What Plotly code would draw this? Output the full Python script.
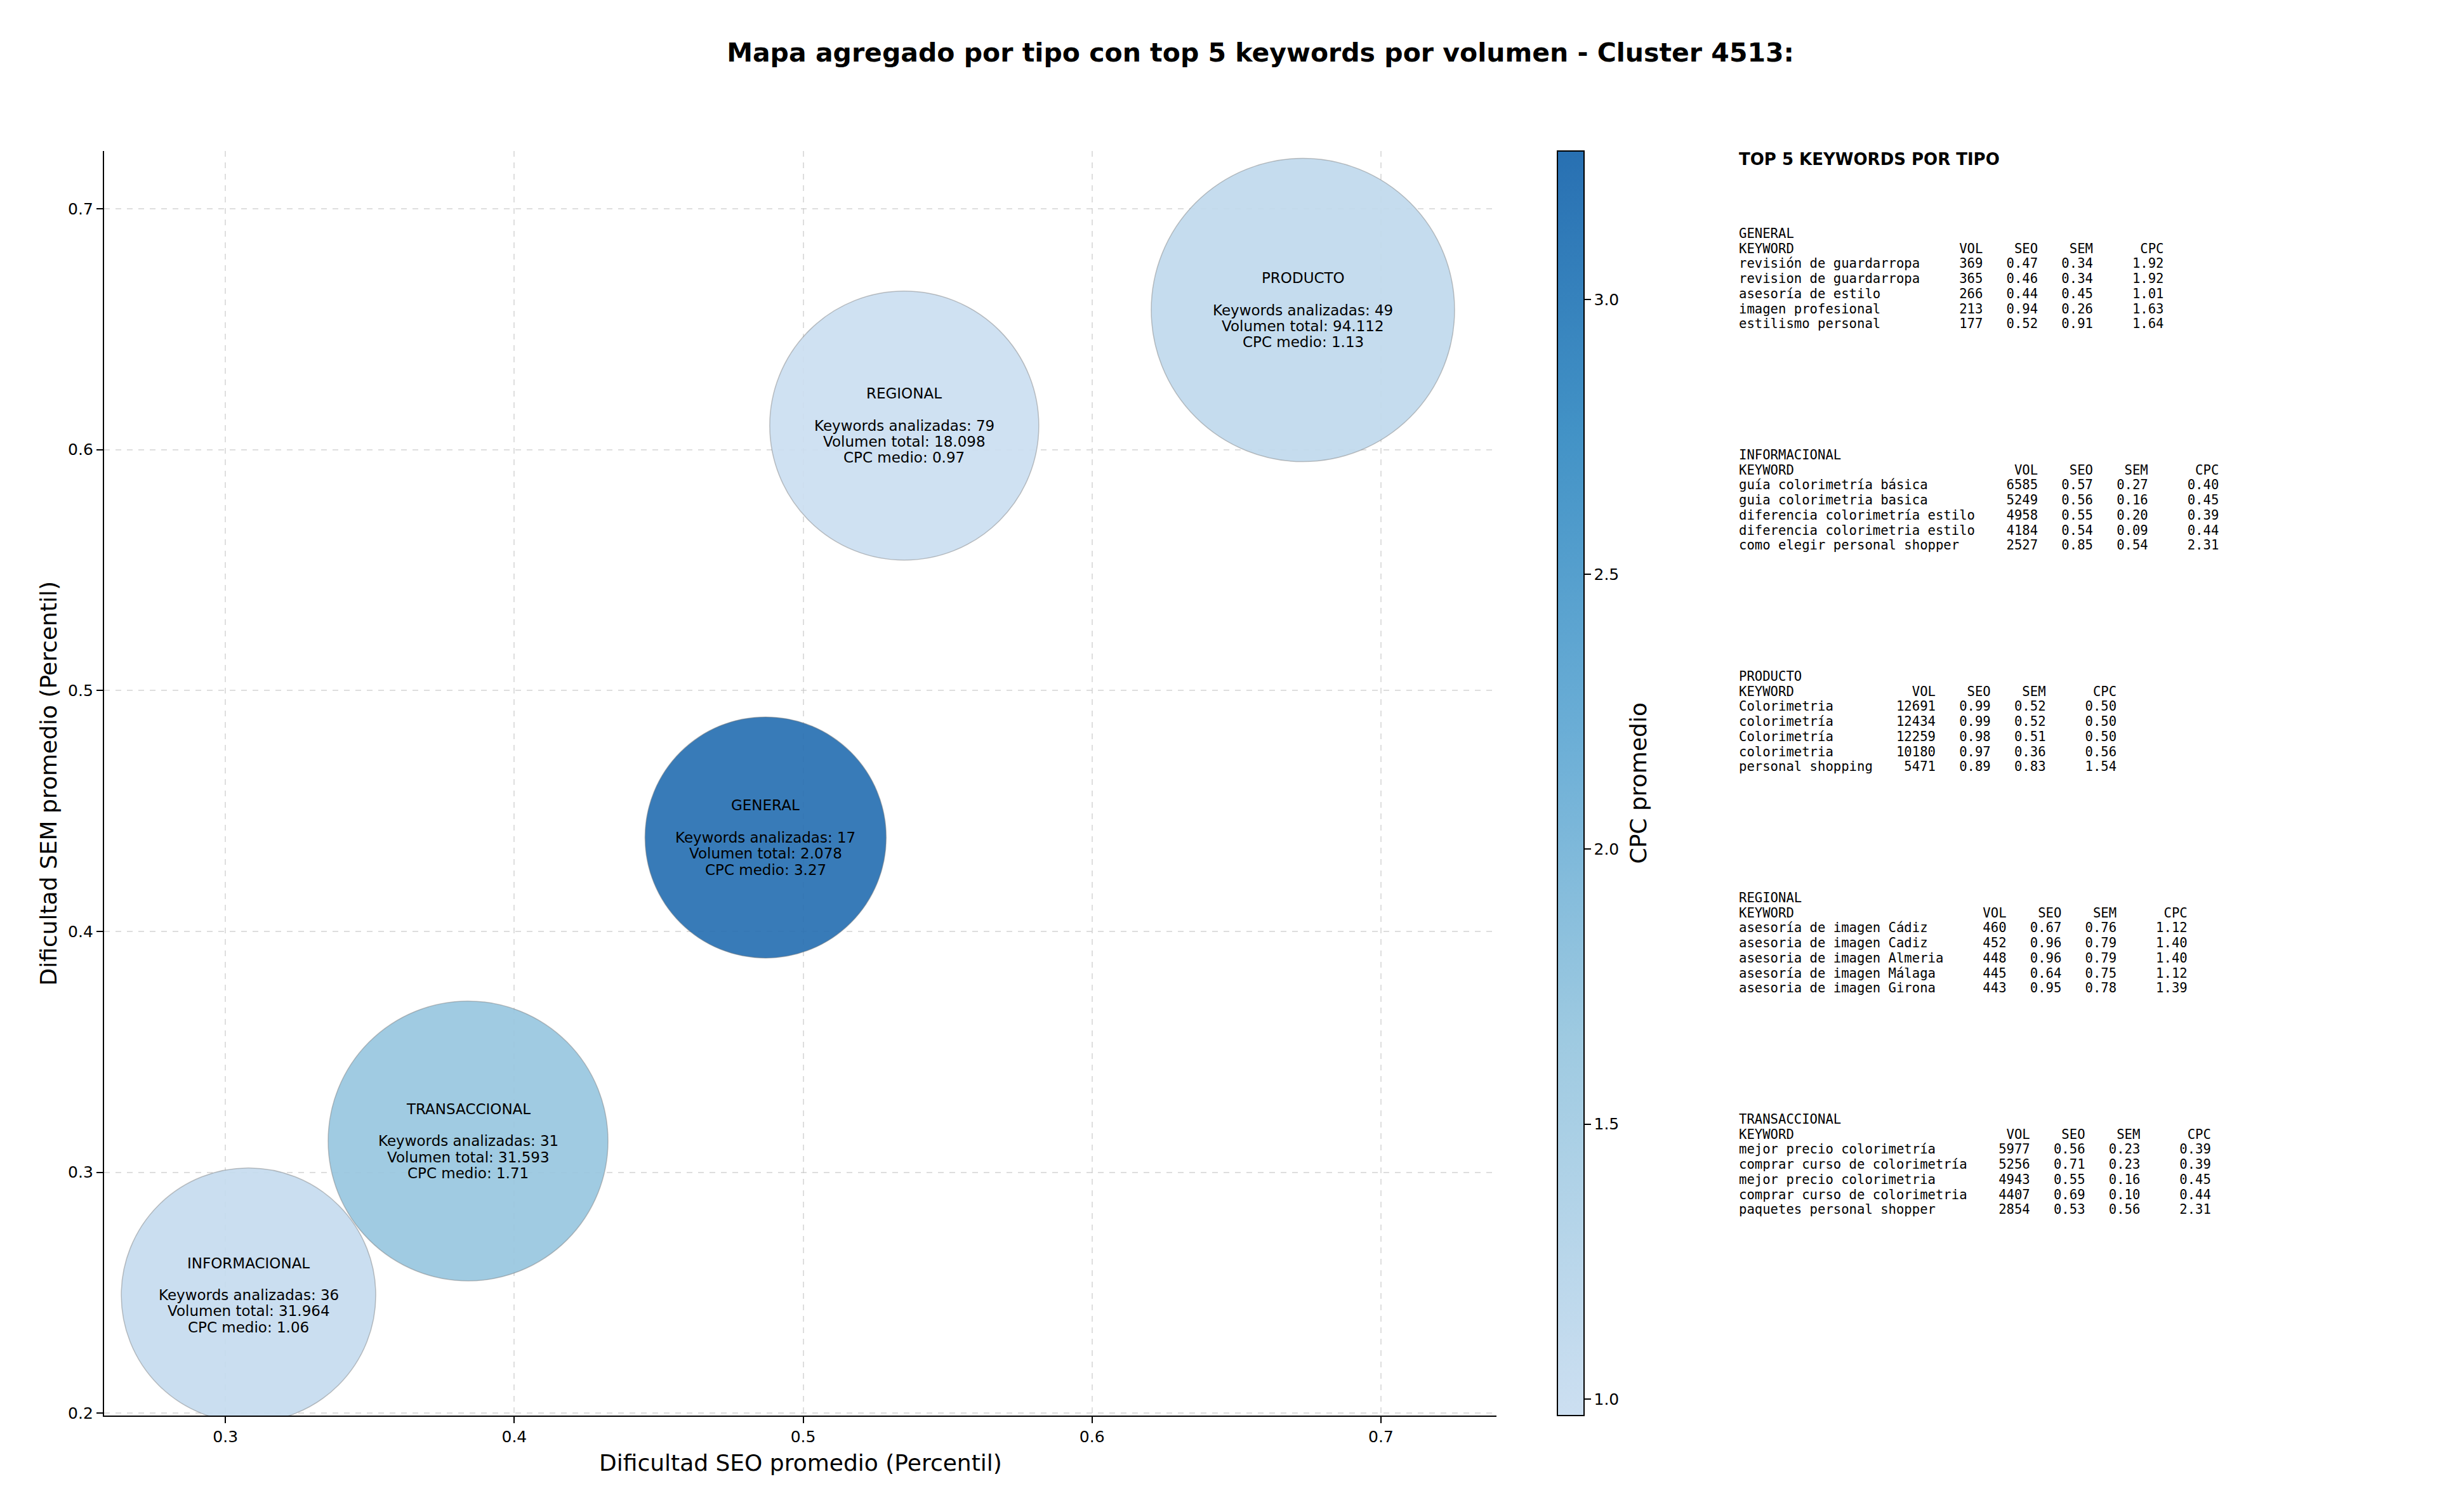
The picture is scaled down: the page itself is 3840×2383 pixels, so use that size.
import plotly.graph_objects as go

# ---------------- DATA ----------------
tipos = ["GENERAL", "INFORMACIONAL", "PRODUCTO", "REGIONAL", "TRANSACCIONAL"]
seo_promedio = [0.487, 0.308, 0.673, 0.535, 0.384]
sem_promedio = [0.439, 0.249, 0.658, 0.610, 0.313]
keywords_analizadas = [17, 36, 49, 79, 31]
volumen_total = [2078, 31964, 94112, 18098, 31593]
cpc_medio = [3.27, 1.06, 1.13, 0.97, 1.71]

general_kw = ["revisión de guardarropa", "revision de guardarropa", "asesoría de estilo",
              "imagen profesional", "estilismo personal"]
general_vol = [369, 365, 266, 213, 177]
general_seo = [0.47, 0.46, 0.44, 0.94, 0.52]
general_sem = [0.34, 0.34, 0.45, 0.26, 0.91]
general_cpc = [1.92, 1.92, 1.01, 1.63, 1.64]

informacional_kw = ["guía colorimetría básica", "guia colorimetria basica",
                    "diferencia colorimetría estilo", "diferencia colorimetria estilo",
                    "como elegir personal shopper"]
informacional_vol = [6585, 5249, 4958, 4184, 2527]
informacional_seo = [0.57, 0.56, 0.55, 0.54, 0.85]
informacional_sem = [0.27, 0.16, 0.20, 0.09, 0.54]
informacional_cpc = [0.40, 0.45, 0.39, 0.44, 2.31]

producto_kw = ["Colorimetria", "colorimetría", "Colorimetría", "colorimetria", "personal shopping"]
producto_vol = [12691, 12434, 12259, 10180, 5471]
producto_seo = [0.99, 0.99, 0.98, 0.97, 0.89]
producto_sem = [0.52, 0.52, 0.51, 0.36, 0.83]
producto_cpc = [0.50, 0.50, 0.50, 0.56, 1.54]

regional_kw = ["asesoría de imagen Cádiz", "asesoria de imagen Cadiz", "asesoria de imagen Almeria",
               "asesoría de imagen Málaga", "asesoria de imagen Girona"]
regional_vol = [460, 452, 448, 445, 443]
regional_seo = [0.67, 0.96, 0.96, 0.64, 0.95]
regional_sem = [0.76, 0.79, 0.79, 0.75, 0.78]
regional_cpc = [1.12, 1.40, 1.40, 1.12, 1.39]

transaccional_kw = ["mejor precio colorimetría", "comprar curso de colorimetría",
                    "mejor precio colorimetria", "comprar curso de colorimetria",
                    "paquetes personal shopper"]
transaccional_vol = [5977, 5256, 4943, 4407, 2854]
transaccional_seo = [0.56, 0.71, 0.55, 0.69, 0.53]
transaccional_sem = [0.23, 0.23, 0.16, 0.10, 0.56]
transaccional_cpc = [0.39, 0.39, 0.45, 0.44, 2.31]

x_ticks = [0.3, 0.4, 0.5, 0.6, 0.7]
y_ticks = [0.2, 0.3, 0.4, 0.5, 0.6, 0.7]
cbar_ticks = [1.0, 1.5, 2.0, 2.5, 3.0]

# ---------------- STYLE / LAYOUT ----------------
W, H = 3840, 2383
PL, PR, PT, PB = 164, 2358, 238, 2231
BUBBLE_DIAMETER_PX = [380, 401, 478, 424, 441]
FONT = "DejaVu Sans"
MONO = "DejaVu Sans Mono"

colorscale = [
    [0.0, "rgb(204,223,241)"],
    [0.298, "rgb(158,202,225)"],
    [0.538, "rgb(107,174,214)"],
    [0.779, "rgb(66,146,198)"],
    [1.0, "rgb(40,112,178)"],
]


def px_x(px):
    return (px - PL) / (PR - PL)


def px_y(py):
    return (PB - py) / (PB - PT)


def fmt_miles(v):
    return f"{v:,}".replace(",", ".")


fig = go.Figure()
fig.add_trace(go.Scatter(
    x=seo_promedio, y=sem_promedio, mode="markers",
    marker=dict(size=BUBBLE_DIAMETER_PX, sizemode="diameter", color=cpc_medio,
                cmin=min(cpc_medio), cmax=max(cpc_medio), colorscale=colorscale,
                opacity=0.92, line=dict(color="rgba(110,110,110,0.45)", width=1.5),
                colorbar=dict(
                    x=px_x(2454), xanchor="left", xpad=0, ypad=0,
                    y=0.5, yanchor="middle", len=1, lenmode="fraction",
                    thickness=42, thicknessmode="pixels",
                    outlinewidth=2, outlinecolor="black",
                    tickvals=cbar_ticks, ticktext=[f"{t:.1f}" for t in cbar_ticks],
                    ticks="outside", ticklen=10, tickwidth=2, tickcolor="black",
                    tickfont=dict(family=FONT, size=25, color="black"),
                )),
    hoverinfo="skip", showlegend=False, cliponaxis=True,
))

annotations = []
LINE_B = 25.3
for i, t in enumerate(tipos):
    lines = [
        (t, 2 * LINE_B),
        (f"Keywords analizadas: {keywords_analizadas[i]}", 0),
        (f"Volumen total: {fmt_miles(volumen_total[i])}", -LINE_B),
        (f"CPC medio: {cpc_medio[i]:.2f}", -2 * LINE_B),
    ]
    for txt, dy in lines:
        annotations.append(dict(
            x=seo_promedio[i], y=sem_promedio[i], xref="x", yref="y",
            text=txt, showarrow=False, xanchor="center", yanchor="middle",
            yshift=dy, font=dict(family=FONT, size=23, color="black")))

# Table panel
tables = [
    ("GENERAL", general_kw, general_vol, general_seo, general_sem, general_cpc),
    ("INFORMACIONAL", informacional_kw, informacional_vol, informacional_seo, informacional_sem, informacional_cpc),
    ("PRODUCTO", producto_kw, producto_vol, producto_seo, producto_sem, producto_cpc),
    ("REGIONAL", regional_kw, regional_vol, regional_seo, regional_sem, regional_cpc),
    ("TRANSACCIONAL", transaccional_kw, transaccional_vol, transaccional_seo, transaccional_sem, transaccional_cpc),
]
TX = 2738
annotations.append(dict(
    x=px_x(TX), y=px_y(251), xref="paper", yref="paper", text="<b>TOP 5 KEYWORDS POR TIPO</b>",
    showarrow=False, xanchor="left", yanchor="middle",
    font=dict(family=FONT, size=26, color="black")))
BLOCK_Y0, BLOCK_STEP, LINE_STEP = 368, 349, 23.7
for b, (name, kw, vol, seo, sem, cpc) in enumerate(tables):
    w = max(len(k) for k in kw) + 2
    rows = [name, f"{'KEYWORD':<{w}}{'VOL':>6}{'SEO':>7}{'SEM':>7}{'CPC':>9}"]
    for k, v, s1, s2, c in zip(kw, vol, seo, sem, cpc):
        rows.append(f"{k:<{w}}{v:>6}{s1:>7.2f}{s2:>7.2f}{c:>9.2f}")
    for j, r in enumerate(rows):
        annotations.append(dict(
            x=px_x(TX), y=px_y(BLOCK_Y0 + b * BLOCK_STEP + j * LINE_STEP),
            xref="paper", yref="paper", text=r.replace(" ", "\u00a0"),
            showarrow=False, xanchor="left", yanchor="middle",
            font=dict(family=MONO, size=20.6, color="black")))

# axis titles
annotations.append(dict(x=0.5, y=px_y(2305), xref="paper", yref="paper",
                        text="Dificultad SEO promedio (Percentil)", showarrow=False,
                        xanchor="center", yanchor="middle",
                        font=dict(family=FONT, size=36, color="black")))
annotations.append(dict(x=px_x(76), y=0.5, xref="paper", yref="paper",
                        text="Dificultad SEM promedio (Percentil)", showarrow=False, textangle=-90,
                        xanchor="center", yanchor="middle",
                        font=dict(family=FONT, size=36, color="black")))
annotations.append(dict(x=px_x(2581), y=0.5, xref="paper", yref="paper",
                        text="CPC promedio", showarrow=False, textangle=-90,
                        xanchor="center", yanchor="middle",
                        font=dict(family=FONT, size=36, color="black")))

axis_common = dict(
    showline=True, linecolor="black", linewidth=2.4, mirror=False,
    ticks="outside", ticklen=10, tickwidth=2.4, tickcolor="black",
    tickfont=dict(family=FONT, size=25, color="black"),
    showgrid=True, gridcolor="rgba(200,200,200,0.6)", gridwidth=1.5, griddash="dash",
    zeroline=False,
)

fig.update_layout(
    width=W, height=H,
    margin=dict(l=PL, r=W - PR, t=PT, b=H - PB, pad=0),
    paper_bgcolor="white", plot_bgcolor="white",
    title=dict(text="<b>Mapa agregado por tipo con top 5 keywords por volumen - Cluster 4513:</b>",
               x=1986 / W, xref="container", xanchor="center",
               y=1 - 83 / H, yanchor="middle",
               font=dict(family=FONT, size=41, color="black")),
    xaxis=dict(range=[0.258, 0.740], tickvals=x_ticks, ticktext=[f"{v:.1f}" for v in x_ticks],
               **axis_common),
    yaxis=dict(range=[0.199, 0.724], tickvals=y_ticks, ticktext=[f"{v:.1f}" for v in y_ticks],
               **axis_common),
    annotations=annotations,
)

fig.write_html("out.html")
